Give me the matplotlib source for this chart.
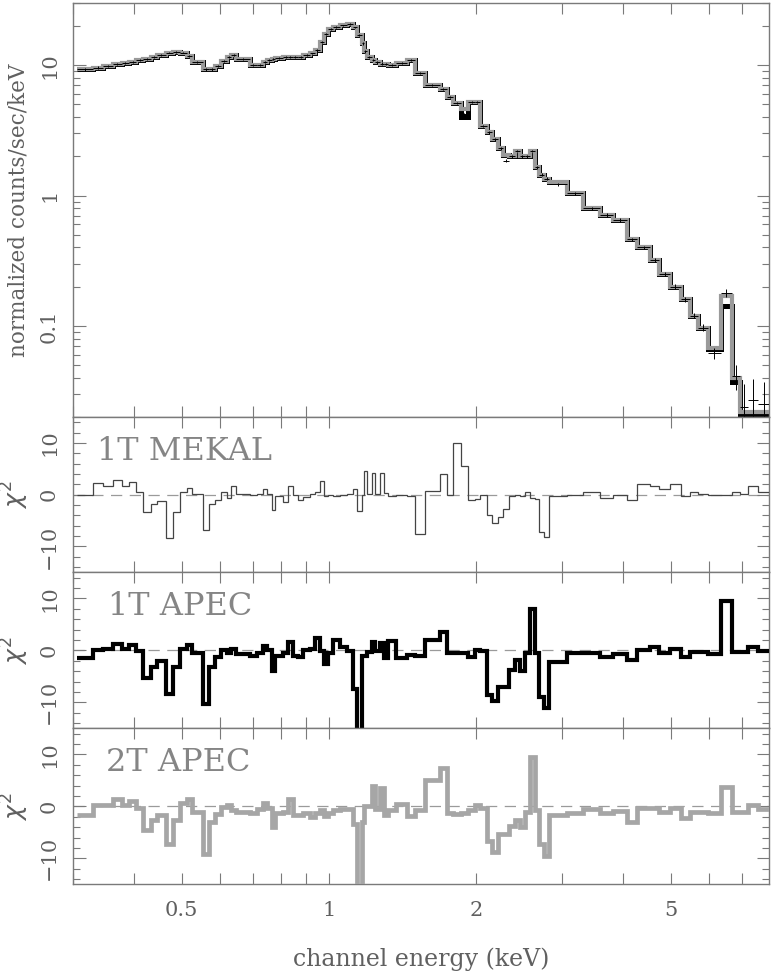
import numpy as np
import matplotlib
matplotlib.use("Agg")
import matplotlib.pyplot as plt
from matplotlib.ticker import FixedLocator, NullFormatter, MultipleLocator

# ---------------- data ----------------
edges_keV = [0.305, 0.330, 0.345, 0.362, 0.377, 0.390, 0.404, 0.418, 0.434, 0.445,
             0.464, 0.480, 0.496, 0.512, 0.526, 0.552, 0.569, 0.585, 0.603, 0.618,
             0.632, 0.647, 0.689, 0.712, 0.734, 0.746, 0.764, 0.775, 0.806, 0.826,
             0.843, 0.865, 0.886, 0.915, 0.936, 0.959, 0.977, 0.997, 1.020, 1.053,
             1.087, 1.121, 1.143, 1.167, 1.179, 1.198, 1.223, 1.242, 1.272, 1.296,
             1.322, 1.375, 1.442, 1.499, 1.572, 1.687, 1.741, 1.796, 1.860, 1.927,
             1.989, 2.036, 2.101, 2.151, 2.219, 2.272, 2.337, 2.401, 2.458, 2.517,
             2.576, 2.638, 2.692, 2.752, 2.821, 3.063, 3.311, 3.583, 3.814, 4.062,
             4.272, 4.533, 4.737, 4.981, 5.238, 5.473, 5.692, 5.966, 6.32, 6.662,
             6.928, 7.204, 7.551, 7.94]

flux = [9.3, 9.6, 9.9, 10.2, 10.4, 10.6, 10.9, 11.2, 11.6, 12.0,
        12.5, 12.6, 12.5, 11.8, 10.6, 9.3, 9.3, 9.9, 10.8, 11.5,
        11.9, 11.2, 10.1, 10.1, 10.6, 10.9, 11.1, 11.4, 11.5, 11.5,
        11.6, 11.6, 11.9, 12.3, 13.0, 15.0, 17.5, 19.0, 19.6, 20.2,
        20.8, 19.5, 17.0, 14.7, 12.8, 11.6, 10.9, 10.5, 10.3, 10.2,
        10.0, 10.4, 11.0, 8.7, 7.1, 6.6, 5.7, 5.1, 4.2, 5.2,
        5.2, 3.4, 3.05, 2.7, 2.3, 1.85, 2.0, 2.2, 2.0, 2.0,
        2.2, 1.65, 1.45, 1.35, 1.22, 1.04, 0.80, 0.71, 0.65, 0.46,
        0.40, 0.32, 0.25, 0.20, 0.16, 0.12, 0.097, 0.062, 0.18, 0.041,
        0.024, 0.027, 0.025]

flux_err = [0.2, 0.2, 0.2, 0.2, 0.2, 0.2, 0.2, 0.2, 0.2, 0.2,
            0.2, 0.2, 0.2, 0.2, 0.2, 0.2, 0.2, 0.2, 0.2, 0.2,
            0.2, 0.2, 0.2, 0.2, 0.2, 0.2, 0.2, 0.2, 0.2, 0.2,
            0.2, 0.2, 0.2, 0.2, 0.3, 0.3, 0.3, 0.3, 0.3, 0.3,
            0.3, 0.3, 0.3, 0.3, 0.3, 0.2, 0.2, 0.2, 0.2, 0.2,
            0.2, 0.2, 0.2, 0.15, 0.12, 0.12, 0.1, 0.1, 0.1, 0.1,
            0.1, 0.07, 0.06, 0.06, 0.05, 0.05, 0.05, 0.05, 0.05, 0.05,
            0.05, 0.04, 0.04, 0.04, 0.03, 0.025, 0.02, 0.02, 0.02, 0.015,
            0.012, 0.01, 0.009, 0.008, 0.007, 0.006, 0.006, 0.006, 0.012, 0.009,
            0.012, 0.012, 0.012]

model_1t = [9.3, 9.6, 9.9, 10.2, 10.4, 10.6, 10.9, 11.2, 11.6, 12.0,
            12.5, 12.6, 12.5, 11.8, 10.6, 9.3, 9.3, 9.9, 10.8, 11.5,
            11.9, 11.2, 10.1, 10.1, 10.6, 10.9, 11.1, 11.4, 11.5, 11.5,
            11.6, 11.6, 11.9, 12.3, 13.0, 15.0, 17.5, 19.0, 19.6, 20.2,
            20.8, 19.5, 17.0, 14.7, 12.8, 11.6, 10.9, 10.5, 10.3, 10.2,
            10.0, 10.4, 11.0, 8.7, 7.1, 6.6, 5.7, 5.1, 4.0, 5.2,
            5.2, 3.4, 3.05, 2.7, 2.3, 2.05, 2.0, 2.2, 2.0, 2.0,
            2.2, 1.65, 1.45, 1.35, 1.27, 1.04, 0.80, 0.71, 0.65, 0.46,
            0.40, 0.32, 0.25, 0.20, 0.16, 0.12, 0.097, 0.066, 0.142, 0.037,
            0.021, 0.021, 0.021]

model_2t = [9.3, 9.6, 9.9, 10.2, 10.4, 10.6, 10.9, 11.2, 11.6, 12.0,
            12.5, 12.6, 12.5, 11.8, 10.6, 9.3, 9.3, 9.9, 10.8, 11.5,
            11.9, 11.2, 10.1, 10.1, 10.6, 10.9, 11.1, 11.4, 11.5, 11.5,
            11.6, 11.6, 11.9, 12.3, 13.0, 15.0, 17.5, 19.0, 19.6, 20.2,
            20.8, 19.5, 17.0, 14.7, 12.8, 11.6, 10.9, 10.5, 10.3, 10.2,
            10.0, 10.4, 11.0, 8.7, 7.1, 6.6, 5.7, 5.1, 4.6, 5.2,
            5.2, 3.4, 3.05, 2.7, 2.3, 2.05, 2.0, 2.2, 2.0, 2.0,
            2.2, 1.65, 1.45, 1.35, 1.27, 1.04, 0.80, 0.71, 0.65, 0.46,
            0.40, 0.32, 0.25, 0.20, 0.16, 0.12, 0.097, 0.068, 0.17, 0.040,
            0.022, 0.022, 0.022]

chi_mekal = [0.0, 2.3, 1.7, 2.9, 1.7, 2.4, 0.6, -3.4, -1.8, -1.3,
             -8.4, -3.4, 0.45, 1.3, 0.2, -6.8, -1.8, -1.0, 0.5, -0.6,
             1.7, 0.1, -0.1, 0.1, 1.0, 0.1, -3.0, -0.2, -1.4, 1.6,
             0.0, -1.1, -0.5, 0.1, 0.5, 2.6, -0.2, 0.0, -0.3, 0.0,
             0.2, 1.0, -3.1, 0.0, 4.6, 0.1, 4.2, 0.1, 4.2, 0.3,
             -0.3, 0.0, -0.2, -7.6, 0.65, 4.0, 0.0, 10.0, 5.6, -1.1,
             -0.8, 0.0, -3.9, -5.4, -4.4, -2.7, -0.3, 0.0, -0.2, 0.5,
             -0.6, -0.8, -7.3, -8.1, -0.3, 0.0, 0.5, -0.6, 0.0, -1.1,
             2.1, 1.7, 1.0, 2.1, -0.3, 0.6, 0.2, 0.0, 0.0, 0.5,
             0.1, 1.6, 0.5]

chi_apec1t = [-1.5, 0.1, 0.3, 1.2, 0.3, 1.0, -0.1, -5.4, -3.2, -2.1,
              -8.4, -3.2, 0.3, 1.0, -0.5, -10.3, -3.2, -1.3, 0.0, -0.6,
              0.3, -0.8, -1.0, -0.6, 0.8, 0.0, -3.9, -1.1, -0.6, 1.6,
              -1.1, -1.3, 0.0, 0.3, 2.4, -0.2, -2.6, -0.6, 1.9, 0.6,
              -0.1, -7.4, -17.0, -1.0, -1.0, -0.3, 1.6, -0.2, 1.5, -1.5,
              1.8, -1.5, -0.9, -1.0, 1.9, 3.5, -0.6, -0.5, -0.5, -1.3,
              0.1, -0.1, -8.6, -9.8, -7.1, -7.1, -3.7, -1.9, -3.9, -0.5,
              7.9, -0.6, -9.0, -11.0, -2.3, -0.5, -0.5, -1.3, -0.8, -1.9,
              0.1, 0.6, -0.5, 0.3, -1.3, -0.3, -0.3, -0.8, 9.5, -0.3,
              -0.3, 0.6, -0.1]

chi_apec2t = [-1.6, 0.2, 0.2, 1.5, 0.3, 1.0, -0.3, -4.5, -2.7, -1.7,
              -7.2, -2.7, 0.7, 1.5, -1.0, -9.2, -3.0, -1.4, -0.1, 0.2,
              -0.8, -1.1, -1.2, -0.5, 0.7, -0.3, -3.9, -1.2, -1.0, 1.4,
              -1.6, -1.6, -1.2, -2.1, -1.2, -0.8, -1.9, -1.2, -0.8, -0.6,
              -0.5, -3.4, -15.3, -3.0, 0.0, 0.0, 3.9, -0.5, 3.5, -1.7,
              -0.8, 0.5, -1.9, -0.8, 5.0, 7.3, -1.2, -1.5, -1.2, -0.8,
              0.2, -0.3, -6.6, -8.7, -5.3, -5.3, -3.7, -2.7, -4.0, -1.0,
              9.5, -0.8, -7.2, -9.5, -1.7, -1.2, -0.6, -1.2, -0.9, -3.0,
              -0.3, -0.3, -1.0, -0.3, -2.3, -1.0, -1.0, -1.3, 3.8, -1.0,
              -1.0, 0.2, -0.5]

panel_labels = ["1T MEKAL", "1T APEC", "2T APEC"]
xtick_major = [0.5, 1, 2, 5]
xtick_major_labels = ["0.5", "1", "2", "5"]
xtick_minor = [0.3, 0.4, 0.6, 0.7, 0.8, 0.9, 3, 4, 6, 7, 8]
ytick_top = [0.1, 1, 10]
ytick_top_labels = ["0.1", "1", "10"]

# ---------------- styling ----------------
FONT = ["DejaVu Serif"]
TXT = "#606060"
FRAME = "#7a7a7a"
plt.rcParams["font.family"] = FONT

edges = np.array(edges_keV)
centers = np.sqrt(edges[:-1] * edges[1:])
xlo = centers - edges[:-1]
xhi = edges[1:] - centers

fig = plt.figure(figsize=(7.71, 9.72), dpi=100)
L, W = 0.0947, 0.9027
ax0 = fig.add_axes([L, 0.5710, W, 0.4259])
ax1 = fig.add_axes([L, 0.4112, W, 0.1598])
ax2 = fig.add_axes([L, 0.2507, W, 0.1605])
ax3 = fig.add_axes([L, 0.0902, W, 0.1605])

def style(ax, bottom_labels=False):
    ax.set_xscale("log")
    ax.set_xlim(0.3, 7.94)
    ax.xaxis.set_major_locator(FixedLocator(xtick_major))
    ax.xaxis.set_minor_locator(FixedLocator(xtick_minor))
    ax.xaxis.set_minor_formatter(NullFormatter())
    if bottom_labels:
        ax.set_xticklabels(xtick_major_labels)
    else:
        ax.xaxis.set_major_formatter(NullFormatter())
    ax.tick_params(which="both", direction="in", top=True, right=True,
                   color=FRAME, labelcolor=TXT, labelsize=15, width=0.8)
    ax.tick_params(which="major", length=9)
    ax.tick_params(which="minor", length=5)
    ax.tick_params(axis="x", which="both", length=8, pad=12)
    ax.tick_params(axis="y", pad=10)
    for s in ax.spines.values():
        s.set_color(FRAME)
        s.set_linewidth(1.0)
    for lab in ax.get_yticklabels():
        lab.set_rotation(90)
        lab.set_va("center")

# ---- top panel: spectrum ----
ax0.set_yscale("log")
ax0.set_ylim(0.02, 30)
ax0.stairs(model_1t, edges, baseline=None, color="black", lw=3.6, zorder=2)
ax0.stairs(model_2t, edges, baseline=None, color="#9a9a9a", lw=3.0, zorder=3)
ax0.errorbar(centers, flux, xerr=[xlo, xhi], yerr=flux_err, fmt="none",
             ecolor="black", elinewidth=0.7, capsize=0, zorder=4)
ax0.yaxis.set_major_locator(FixedLocator(ytick_top))
ax0.set_yticklabels(ytick_top_labels)
ax0.yaxis.set_minor_formatter(NullFormatter())
style(ax0)
ax0.set_ylabel("normalized counts/sec/keV", color=TXT, fontsize=15.5)
ax0.yaxis.set_label_coords(-0.062, 0.5)

# ---- residual panels ----
res_sets = [(ax1, chi_mekal, "#444444", 0.9),
            (ax2, chi_apec1t, "black", 3.0),
            (ax3, chi_apec2t, "#a6a6a6", 3.4)]
label_x = [0.034, 0.05, 0.047]
for i, (ax, vals, col, lw) in enumerate(res_sets):
    ax.set_ylim(-15, 15)
    ax.axhline(0, color="#9a9a9a", lw=0.9, ls=(0, (9, 6)), zorder=1)
    ax.stairs(vals, edges, baseline=None, color=col, lw=lw, zorder=3)
    ax.yaxis.set_major_locator(FixedLocator([-10, 0, 10]))
    ax.yaxis.set_minor_locator(MultipleLocator(2))
    style(ax, bottom_labels=(i == 2))
    ax.set_yticklabels(["\u221210", "0", "10"])
    for lab in ax.get_yticklabels():
        lab.set_rotation(90)
        lab.set_va("center")
    ax.set_ylabel(r"$\chi^2$", color=TXT, fontsize=18)
    ax.yaxis.set_label_coords(-0.06, 0.5)
    ax.text(label_x[i], 0.78, panel_labels[i], transform=ax.transAxes,
            fontsize=23, color="#858585", va="center", ha="left")

ax3.set_xlabel("channel energy (keV)", color=TXT, fontsize=17, labelpad=20)

fig.savefig("out.png", dpi=100)
